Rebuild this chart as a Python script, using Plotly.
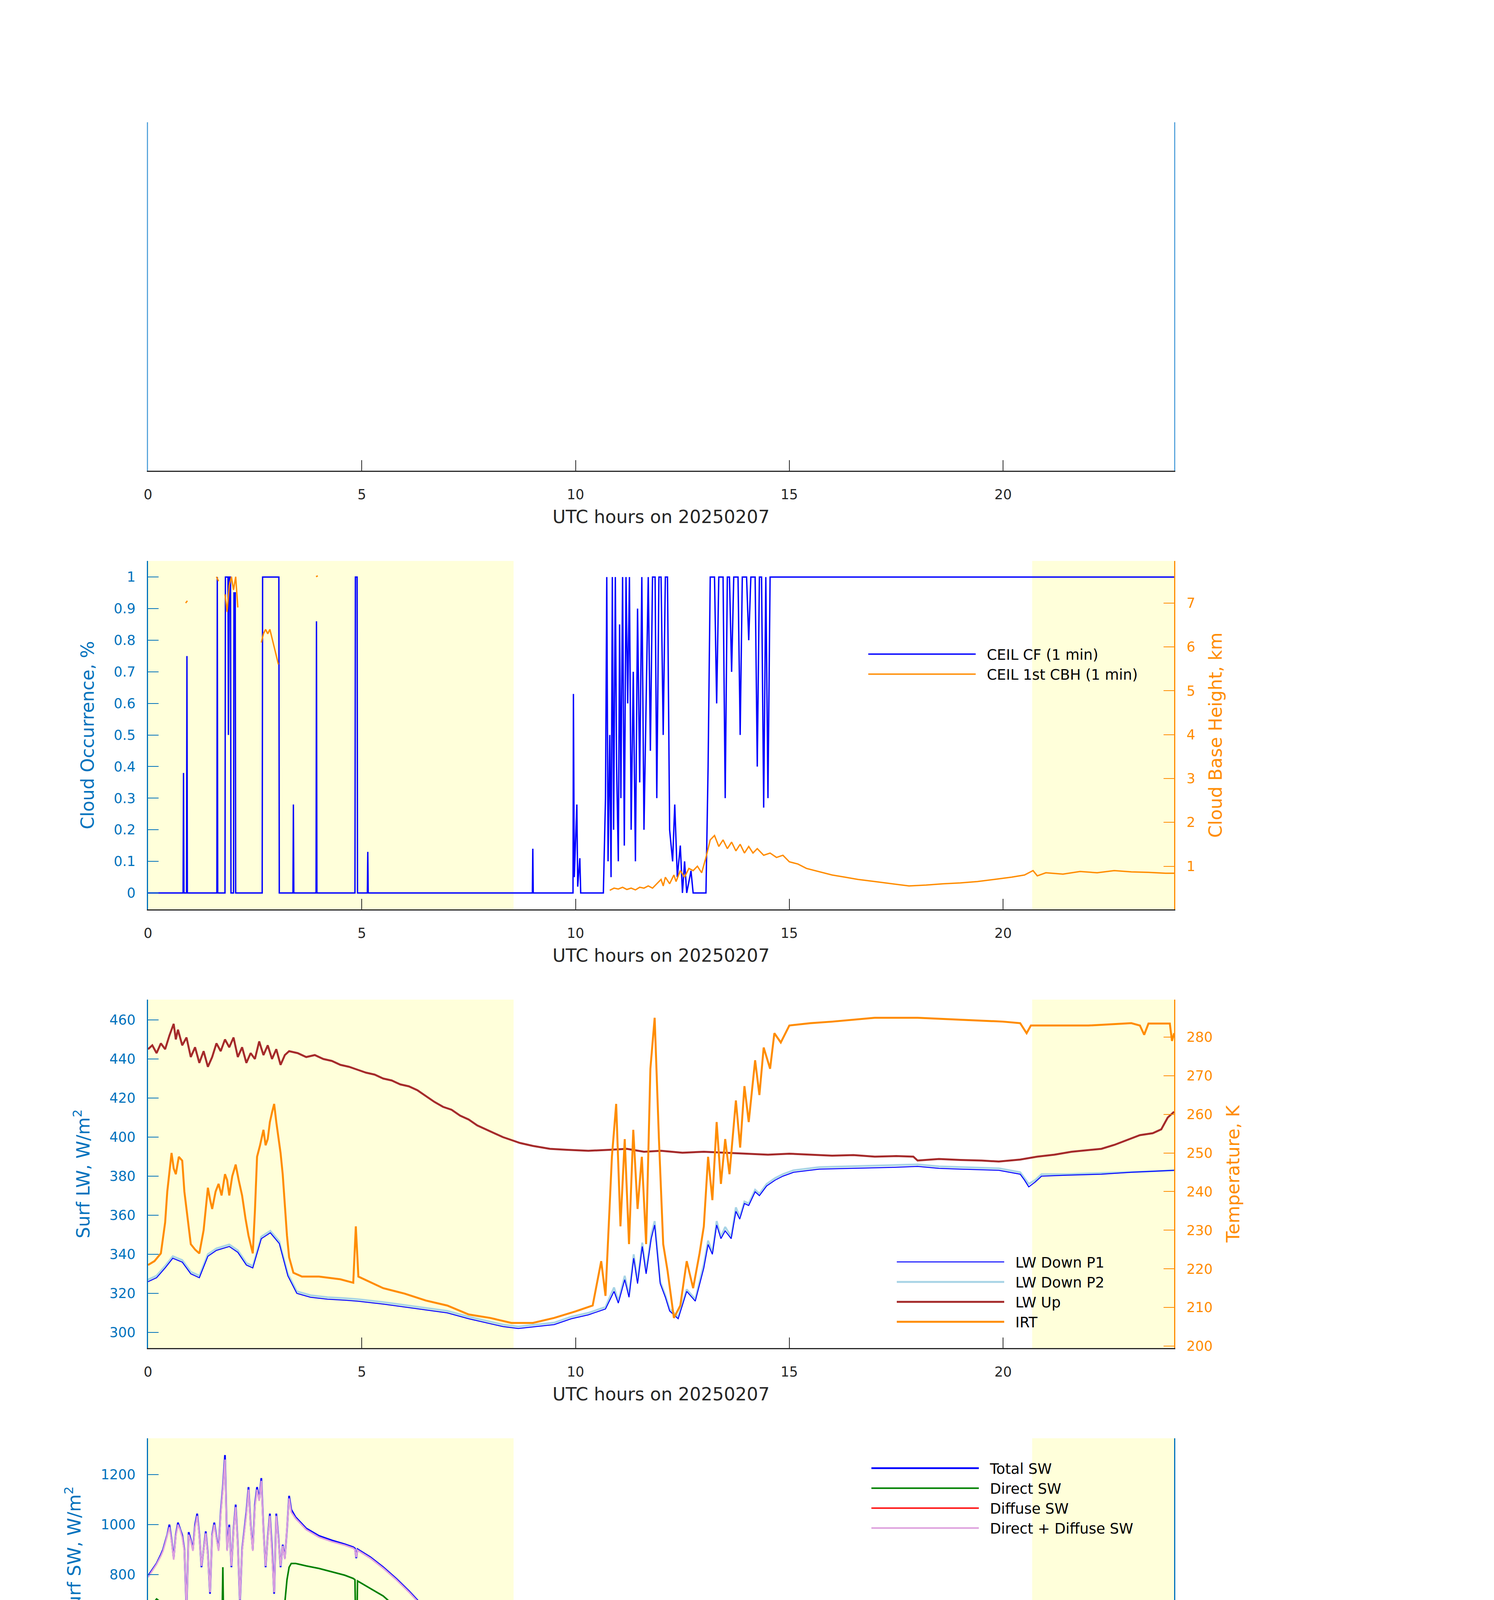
import plotly.graph_objects as go

# ---------------- DATA ----------------
HOURS_TICKS = [0, 5, 10, 15, 20]
DAY_BANDS = [(0.0, 8.55), (20.68, 24.0)]

cf_t = [0.0,0.82,0.83,0.84,0.9,0.91,0.92,1.61,1.62,1.63,
        1.8,1.81,1.87,1.88,1.9,1.93,1.94,2.0,2.01,2.04,
        2.05,2.67,2.68,3.06,3.07,3.39,3.4,3.41,3.93,3.94,
        3.95,4.84,4.85,4.89,4.9,5.13,5.14,5.15,8.99,9.0,
        9.01,9.94,9.95,9.97,10.03,10.05,10.1,10.12,10.65,10.7,
        10.73,10.76,10.8,10.83,10.86,10.89,10.93,10.96,11.0,11.03,
        11.06,11.1,11.14,11.18,11.22,11.26,11.3,11.35,11.4,11.45,
        11.5,11.55,11.6,11.65,11.7,11.75,11.8,11.86,11.9,11.95,
        12.0,12.05,12.1,12.15,12.2,12.27,12.32,12.38,12.45,12.5,
        12.55,12.6,12.7,12.75,13.05,13.1,13.15,13.25,13.3,13.35,
        13.45,13.5,13.55,13.6,13.65,13.7,13.8,13.85,13.9,14.0,
        14.05,14.1,14.2,14.25,14.3,14.35,14.4,14.45,14.5,14.55,
        14.6,24.0]
cf_v = [0,0,0.38,0,0,0.75,0,0,1,0,
        0,1,1,0.5,1,1,0,0,0.95,0.95,
        0,0,1,1,0,0,0.28,0,0,0.86,
        0,0,1,1,0,0,0.13,0,0,0.14,
        0,0,0.63,0.05,0.28,0.02,0.11,0,0,0.3,
        1,0.1,0.5,0.05,1,0.2,1,0.4,0.1,0.85,
        0.3,1,0.15,1,0.6,1,0.2,0.7,0.1,0.9,
        0.35,1,0.2,0.6,1,0.45,1,1,0.3,1,
        1,0.5,1,1,0.2,0.1,0.28,0.05,0.15,0,
        0.1,0,0.07,0,0,0.4,1,1,0.6,1,
        1,0.3,1,1,0.7,1,1,0.5,1,1,
        0.8,1,1,0.4,1,1,0.27,1,0.3,1,
        1,1]
cbh_t = [0.88,0.92,None,1.6,1.65,None,1.8,1.85,1.9,1.95,2.0,2.05,2.1,None,
         2.65,2.7,2.75,2.8,2.85,2.9,2.95,3.0,3.05,None,3.93,3.97,None,
         10.8,10.9,11.0,11.1,11.2,11.3,11.4,11.5,11.6,11.7,11.8,11.9,12.0,
         12.05,12.1,12.2,12.3,12.35,12.45,12.55,12.65,12.75,12.85,12.95,
         13.05,13.15,13.25,13.35,13.45,13.55,13.65,13.75,13.85,13.95,
         14.05,14.15,14.25,14.4,14.55,14.7,14.85,
         15.0,15.2,15.4,15.6,15.8,16.0,
         16.3,16.6,17.0,17.4,17.8,18.2,18.6,19.0,19.4,19.8,
         20.2,20.5,20.7,20.8,21.0,21.4,21.8,22.2,22.6,23.0,23.4,23.8,24.0]
cbh_v = [7.0,7.05,None,7.6,7.5,None,7.2,6.8,7.4,7.6,7.3,7.6,6.9,None,
         6.1,6.3,6.4,6.3,6.4,6.2,6.0,5.8,5.6,None,7.6,7.62,None,
         0.45,0.5,0.48,0.52,0.47,0.5,0.46,0.52,0.5,0.55,0.5,0.6,0.7,
         0.55,0.75,0.6,0.8,0.65,0.9,0.75,0.95,0.9,1.0,0.85,
         1.2,1.6,1.7,1.45,1.6,1.4,1.55,1.35,1.5,1.3,
         1.45,1.3,1.4,1.25,1.3,1.2,1.25,
         1.1,1.05,0.95,0.9,0.85,0.8,
         0.75,0.7,0.65,0.6,0.55,0.57,0.6,0.62,0.65,0.7,
         0.75,0.8,0.9,0.78,0.85,0.82,0.88,0.85,0.9,0.87,0.86,0.84,0.84]

lwd_t = [0.0,0.2,0.4,0.58,0.8,1.0,1.2,1.4,1.6,1.9,
         2.1,2.3,2.45,2.65,2.86,3.07,3.27,3.48,3.8,4.2,
         4.6,4.9,5.5,6.0,6.5,7.0,7.5,8.0,8.3,8.66,
         9.1,9.5,9.9,10.3,10.7,10.9,11.0,11.15,11.25,11.36,
         11.45,11.56,11.65,11.77,11.85,11.98,12.1,12.2,12.4,12.6,
         12.8,13.0,13.1,13.2,13.3,13.4,13.5,13.64,13.75,13.84,
         13.95,14.05,14.2,14.3,14.47,14.67,14.85,15.1,15.7,16.5,
         17.4,18.0,18.5,19.0,19.9,20.4,20.5,20.6,20.75,20.9,
         21.5,22.3,23.0,23.5,24.0]
lwd_p1 = [326,328,333,338,336,330,328,339,342,344,
          341,334.5,333,348,351,345.5,329,320,318,317,
          316.5,316,314.5,313,311.5,310,307,304.5,303,302,
          303,304,307,309,312,321,315,327,318,338,
          325,344,330,348,355,325,318,311,307,321,
          316,333,345,340,355,348,352,348,362,358,
          366,365,372,370,375,378,380,382,383.6,384,
          384.5,385,384,383.6,383,381,378,374.5,377,380,
          380.5,381,382,382.5,383]
lwd_p2 = [327,329,334,339,337,331,329,340,343,345,
          342,335.5,334,349,352,346.5,330,321,319,318,
          317.5,317,315.5,314,312.5,311,308,305.5,304,303,
          304,305,308,310,313,323,316,329,319,340,
          326,346,331,350,357,326,319,312,308,322,
          317,335,347,341,357,349,354,349,364,359,
          367,366,373,371,376,379,381,383,384.6,385,
          385.5,386,385,384.6,384,382,379,376,378,381,
          381,381.5,382,382.5,383]
lwu_t = [0.0,0.1,0.2,0.3,0.4,0.5,0.6,0.65,0.7,0.8,
         0.9,1.0,1.1,1.2,1.3,1.4,1.5,1.6,1.7,1.8,
         1.9,2.0,2.1,2.2,2.3,2.4,2.5,2.6,2.7,2.8,
         2.9,3.0,3.1,3.2,3.3,3.5,3.7,3.9,4.1,4.3,
         4.5,4.7,4.9,5.1,5.3,5.5,5.7,5.9,6.1,6.3,
         6.5,6.7,6.9,7.1,7.3,7.5,7.7,7.9,8.1,8.3,
         8.5,8.7,9.0,9.4,9.8,10.3,10.8,11.2,11.6,12.0,
         12.5,13.0,13.5,14.0,14.5,15.0,15.5,16.0,16.5,17.0,
         17.5,17.9,18.0,18.5,19.0,19.5,19.9,20.4,20.8,21.2,
         21.6,22.0,22.3,22.6,22.9,23.2,23.5,23.7,23.85,24.0]
lwu_v = [445,447,443,448,445,452,458,450,455,447,
         451,441,446,438,444,436,441,448,444,450,
         446,451,441,446,438,443,440,449,442,447,
         440,445,437,442,444,443,441,442,440,439,
         437,436,434.5,433,432,430,429,427,426,424,
         421,418,415.5,414,411,409,406,404,402,400,
         398.5,397,395.5,394,393.5,393,393.5,394,392.5,393,
         392,392.5,392,391.5,391,391.5,391,390.5,390.8,390,
         390.3,390,388,388.8,388.3,388,387.5,388.5,390,391,
         392.5,393.5,394,396,398.5,401,402,404,410,413]
irt_t = [0.0,0.15,0.3,0.4,0.45,0.55,0.6,0.65,0.72,0.8,
         0.85,0.9,0.95,1.0,1.1,1.2,1.3,1.4,1.45,1.5,
         1.58,1.65,1.72,1.8,1.85,1.9,1.97,2.05,2.12,2.2,
         2.28,2.35,2.45,2.5,2.55,2.62,2.7,2.75,2.8,2.85,
         2.9,2.95,3.0,3.05,3.1,3.15,3.2,3.25,3.3,3.4,
         3.6,4.0,4.5,4.8,4.86,4.92,5.5,6.0,6.5,7.0,
         7.5,8.0,8.5,9.0,9.5,10.0,10.4,10.6,10.7,10.85,
         10.95,11.05,11.15,11.25,11.35,11.45,11.55,11.65,11.75,11.85,
         11.95,12.05,12.15,12.3,12.45,12.6,12.75,12.9,13.0,13.1,
         13.2,13.3,13.4,13.5,13.6,13.75,13.85,13.95,14.05,14.2,
         14.3,14.4,14.55,14.65,14.8,15.0,15.5,16.0,17.0,18.0,
         19.0,20.0,20.4,20.55,20.65,21.0,22.0,23.0,23.2,23.3,
         23.4,23.9,23.95,24.0]
irt_v = [221,222,224,232,240,250,246,244.5,249,248,
         240,235.5,230,226.4,225,224,230,241,238,235.5,
         240,242,239,244.5,243,239,244,247,243,239,
         233,228.6,224,235,249,252,256,252,253.6,258,
         260.5,262.7,258,253.6,250,244.5,236,228.6,223,219,
         218,218,217.3,216.4,231,218,215,213.6,211.8,210.5,
         208.2,207.3,206,206,207.3,209,210.5,222,213,249,
         262.7,231,253.6,226.4,256,235.5,249,226.4,271.8,285,
         253.6,226.4,219.6,207.3,210.5,222,215,224,231,249,
         237.8,258,242,253.6,244.5,263.6,251.4,267.3,258,274,
         265,277.3,271.8,281,278.6,283,283.6,284,285,285,
         284.5,284,283.6,281,283,283,283,283.6,283,280.6,
         283.5,283.5,279,281]

sw_t = [0.0,0.1,0.2,0.3,0.35,0.4,0.45,0.5,0.55,0.6,
        0.65,0.7,0.75,0.8,0.85,0.9,0.95,1.0,1.05,1.1,
        1.15,1.2,1.25,1.3,1.35,1.4,1.45,1.5,1.55,1.6,
        1.65,1.7,1.75,1.8,1.85,1.9,1.95,2.0,2.05,2.1,
        2.15,2.2,2.25,2.3,2.35,2.4,2.45,2.5,2.55,2.6,
        2.65,2.7,2.75,2.8,2.85,2.9,2.95,3.0,3.05,3.1,
        3.15,3.2,3.25,3.3,3.35,
        3.45,3.7,4.0,4.3,4.6,4.8,4.84,4.87,4.9,5.2,
        5.5,5.8,6.1,6.4,6.6,6.8,7.0,7.3,7.6,7.9,
        8.2,8.5,8.8,9.1,9.4,9.7,10.0,12.0,14.0,16.0,
        18.0,20.0,
        20.2,20.4,20.6,20.8,21.0,21.2,21.4,21.6,21.8,22.0,
        22.2,22.4,22.5,22.6,22.7,22.8,22.9,23.0,23.2,23.4,
        23.6,23.8,23.9,24.0]
sw_total = [795,820,845,880,900,930,960,1000,940,866,
            960,1008,985,958,900,653,970,940,900,1000,
            1044,960,830,900,973,880,724,960,1008,950,
            900,1050,1150,1278,900,1000,830,980,1080,920,
            690,900,973,1050,1150,1000,900,1080,1150,1100,
            1186,980,830,950,1044,900,724,1044,950,830,
            920,866,980,1115,1060,
            1030,985,955,937,922,910,905,866,902,870,
            830,785,735,680,620,600,560,497,426,350,
            277,206,140,75,30,10,2,1,1,1,
            1,3,
            25,40,50,60,55,65,70,60,68,75,
            85,100,120,160,195,200,175,160,150,155,
            145,160,250,240]
sw_direct = [653,680,703,690,653,600,547,620,85,476,
             560,582,500,476,0,405,250,156,476,350,
             263,420,547,300,85,476,300,50,400,618,
             300,263,830,192,60,50,405,200,405,14,
             300,476,689,600,263,400,476,618,300,50,
             150,192,100,21,156,80,28,200,28,263,
             500,689,780,830,845,
             845,835,825,812,798,785,780,440,775,745,
             715,670,610,545,480,465,410,340,270,200,
             150,95,55,25,6,0,0,0,0,0,
             0,0,
             0,0,0,0,0,0,0,0,0,0,
             0,0,0,0,0,0,0,0,0,0,
             0,0,0,0]
sw_diffuse = [140,145,150,200,250,300,330,320,300,310,
              300,320,300,290,260,250,300,370,340,330,
              360,334,380,420,440,400,420,405,450,405,
              470,500,511,530,480,476,420,476,500,369,
              450,511,480,530,582,550,440,560,600,618,
              560,511,540,582,620,653,640,603,560,440,
              380,277,230,192,170,
              156,130,112,100,92,88,120,178,100,92,
              86,82,80,80,84,98,100,80,72,66,
              60,55,45,30,18,8,2,1,1,1,
              1,3,
              24,39,49,58,54,63,69,59,66,73,
              83,98,118,157,192,197,172,157,147,152,
              142,157,246,237]
sw_dirdif = [790,815,842,875,895,925,955,990,935,860,
             955,1000,980,950,895,660,960,935,895,990,
             1035,955,835,895,965,875,730,955,1000,945,
             895,1040,1140,1260,895,990,835,975,1070,915,
             700,895,965,1040,1140,995,895,1070,1140,1095,
             1175,975,835,945,1035,895,730,1035,945,835,
             915,862,975,1105,1050,
             1025,980,950,932,918,906,900,870,898,866,
             826,781,731,676,616,596,556,493,422,346,
             273,203,137,73,29,10,2,1,1,1,
             1,3,
             24,39,49,59,54,64,69,59,67,74,
             84,99,119,158,193,198,173,158,148,153,
             143,158,247,238]

nb_t_am = [0.0,0.1,0.2,0.3,0.4,0.45,0.5,0.55,0.6,0.65,
           0.7,0.75,0.8,0.85,0.9,0.95,1.0,1.05,1.1,1.15,
           1.2,1.25,1.3,1.35,1.4,1.45,1.5,1.55,1.6,1.65,
           1.7,1.75,1.8,1.85,1.9,1.95,2.0,2.05,2.1,2.15,
           2.2,2.25,2.3,2.35,2.4,2.45,2.5,2.55,2.6,2.65,
           2.7,2.75,2.8,2.85,2.9,2.95,3.0,3.05,3.1,3.15,
           3.2,3.25,3.3,3.35,
           3.5,3.8,4.1,4.4,4.7,4.83,4.86,4.9,5.2,5.5,
           5.8,6.1,6.4,6.5,6.55,6.7,6.9,6.95,7.1,7.4,
           7.7,7.75,7.8,8.0,8.2,8.4,8.6,8.8,9.0]
nb_t_pm = [19.9,20.1,20.3,20.5,20.7,20.9,21.1,21.3,21.5,21.7,
           21.9,22.1,22.3,22.5,22.6,22.7,22.8,22.9,23.0,23.2,
           23.4,23.6,23.8,23.9,24.0]
tot415_am = [1.16,1.18,1.21,1.26,1.30,1.10,1.40,1.05,1.45,1.10,
             1.48,1.25,1.45,0.85,1.52,1.15,1.40,0.80,1.55,1.00,
             1.48,0.70,1.60,0.90,1.52,0.60,1.65,1.05,1.58,0.75,
             1.70,1.15,2.10,1.00,1.62,0.65,1.75,0.85,1.68,0.60,
             1.72,0.95,1.95,1.05,1.68,0.75,1.80,1.05,1.72,0.70,
             1.95,0.90,1.68,0.65,1.62,0.80,1.58,0.55,1.54,0.95,
             1.56,1.25,1.52,1.50,
             1.51,1.49,1.47,1.44,1.40,1.39,1.10,1.38,1.34,1.30,
             1.25,1.20,1.14,1.12,1.10,1.09,1.04,1.03,1.00,0.92,
             0.81,0.79,0.78,0.70,0.61,0.51,0.40,0.28,0.13]
tot415_pm = [0.05,0.06,0.08,0.09,0.10,0.11,0.12,0.14,0.11,0.13,
             0.15,0.17,0.19,0.25,0.30,0.36,0.38,0.32,0.28,0.30,
             0.26,0.31,0.28,0.41,0.44]
tot503_am = [1.41,1.43,1.48,1.54,1.62,1.32,1.77,1.66,1.86,1.53,
             1.87,1.60,1.80,1.33,1.92,1.46,1.72,1.23,1.97,1.38,
             1.82,1.13,2.00,1.28,1.87,1.03,2.02,1.43,1.92,1.18,
             2.07,1.58,2.37,1.48,1.94,1.08,2.12,1.33,1.97,1.03,
             2.07,1.38,2.22,1.53,2.02,1.23,2.17,1.48,2.07,1.18,
             2.12,1.33,2.02,1.13,1.97,1.28,1.92,1.03,1.87,1.38,
             1.90,1.58,1.84,1.77,
             1.76,1.74,1.72,1.69,1.66,1.64,1.32,1.63,1.59,1.54,
             1.49,1.44,1.38,1.36,1.35,1.32,1.27,1.26,1.22,1.13,
             1.02,1.00,0.98,0.89,0.79,0.67,0.54,0.39,0.21]
tot503_pm = [0.05,0.07,0.08,0.10,0.11,0.12,0.13,0.15,0.12,0.14,
             0.16,0.18,0.21,0.27,0.33,0.41,0.43,0.36,0.31,0.34,
             0.29,0.35,0.31,0.46,0.48]
dir503_am = [1.05,1.08,1.12,1.15,1.15,0.90,1.20,0.80,1.30,0.95,
             1.35,1.00,1.25,0.45,1.40,0.80,1.15,0.30,1.45,0.60,
             1.30,0.20,1.50,0.50,1.35,0.15,1.55,0.75,1.40,0.30,
             1.60,0.90,1.80,0.60,1.45,0.15,1.60,0.40,1.50,0.10,
             1.55,0.55,1.70,0.80,1.50,0.30,1.65,0.75,1.55,0.20,
             1.60,0.45,1.50,0.10,1.45,0.35,1.40,0.05,1.35,0.60,
             1.40,1.10,1.45,1.45,
             1.46,1.45,1.44,1.42,1.38,1.37,0.85,1.36,1.33,1.28,
             1.23,1.18,1.12,1.10,0.60,1.07,1.02,0.45,0.98,0.90,
             0.80,0.50,0.76,0.70,0.62,0.52,0.42,0.30,0.15]
dif503_am = [0.35,0.36,0.36,0.38,0.42,0.45,0.55,0.62,0.58,0.70,
             0.55,0.65,0.60,0.80,0.55,0.70,0.62,0.90,0.58,0.78,
             0.60,0.95,0.55,0.80,0.58,0.95,0.52,0.75,0.58,0.90,
             0.55,0.75,0.65,0.95,0.55,1.00,0.58,0.95,0.52,1.05,
             0.55,0.90,0.60,0.80,0.55,0.95,0.58,0.80,0.55,1.00,
             0.60,0.90,0.55,1.05,0.55,0.95,0.58,1.00,0.55,0.85,
             0.50,0.45,0.38,0.33,
             0.31,0.30,0.29,0.28,0.28,0.28,0.75,0.28,0.27,0.27,
             0.27,0.27,0.26,0.26,0.75,0.26,0.25,0.80,0.25,0.24,
             0.22,0.50,0.22,0.20,0.18,0.16,0.13,0.10,0.07]
dif503_pm = [0.05,0.07,0.08,0.10,0.11,0.12,0.13,0.15,0.12,0.14,
             0.16,0.18,0.21,0.27,0.33,0.40,0.42,0.35,0.30,0.33,
             0.28,0.34,0.30,0.45,0.48]
dd503_am = [1.40,1.42,1.47,1.53,1.60,1.30,1.75,1.68,1.85,1.55,
            1.85,1.62,1.78,1.35,1.90,1.48,1.70,1.25,1.95,1.40,
            1.80,1.15,1.98,1.30,1.85,1.05,2.00,1.45,1.90,1.20,
            2.05,1.60,2.35,1.50,1.92,1.10,2.10,1.35,1.95,1.05,
            2.05,1.40,2.20,1.55,2.00,1.25,2.15,1.50,2.05,1.20,
            2.10,1.35,2.00,1.15,1.95,1.30,1.90,1.05,1.85,1.40,
            1.88,1.60,1.82,1.78,
            1.77,1.75,1.73,1.70,1.66,1.65,1.30,1.64,1.60,1.55,
            1.50,1.45,1.39,1.37,1.36,1.33,1.28,1.27,1.23,1.14,
            1.03,1.01,0.99,0.90,0.80,0.68,0.55,0.40,0.22]
dd503_pm = [0.05,0.07,0.08,0.10,0.11,0.12,0.13,0.15,0.12,0.14,
            0.16,0.18,0.21,0.27,0.33,0.40,0.42,0.35,0.30,0.33,
            0.28,0.34,0.30,0.45,0.48]
tot673_am = [1.15,1.17,1.20,1.25,1.30,1.05,1.40,0.95,1.45,1.05,
             1.50,1.20,1.45,0.70,1.55,1.10,1.40,0.60,1.60,0.90,
             1.50,0.50,1.65,0.80,1.55,0.40,1.70,1.00,1.60,0.60,
             1.75,1.10,2.42,0.90,1.65,0.50,1.80,0.70,1.70,0.45,
             1.75,0.85,2.15,1.00,1.70,0.60,1.85,1.00,1.75,0.55,
             2.20,0.80,1.70,0.50,1.65,0.70,1.60,0.40,1.55,0.85,
             1.58,1.20,1.52,1.50,
             1.50,1.48,1.46,1.43,1.39,1.38,0.95,1.37,1.33,1.29,
             1.24,1.19,1.13,1.11,0.65,1.08,1.03,0.50,0.99,0.91,
             0.80,0.55,0.77,0.69,0.60,0.50,0.39,0.27,0.12]
tot673_pm = [0.05,0.06,0.07,0.09,0.10,0.11,0.12,0.13,0.11,0.12,
             0.14,0.16,0.18,0.23,0.28,0.34,0.36,0.30,0.26,0.28,
             0.24,0.29,0.26,0.38,0.40]
tot872_am = [0.70,0.72,0.74,0.76,0.80,0.78,0.85,0.80,0.90,0.82,
             0.95,0.85,0.92,0.70,0.98,0.78,0.90,0.60,1.00,0.72,
             0.92,0.55,1.02,0.65,0.95,0.50,1.05,0.75,0.98,0.60,
             1.05,0.80,1.15,0.70,1.00,0.50,1.08,0.65,1.00,0.45,
             1.05,0.70,1.10,0.80,1.00,0.55,1.08,0.78,1.02,0.50,
             1.10,0.65,1.00,0.45,0.98,0.60,0.95,0.40,0.92,0.70,
             0.93,0.85,0.88,0.86,
             0.86,0.84,0.82,0.80,0.78,0.78,0.95,0.77,0.74,0.71,
             0.68,0.65,0.61,0.60,0.45,0.58,0.56,0.40,0.53,0.49,
             0.44,0.30,0.43,0.39,0.34,0.29,0.23,0.16,0.08]
tot872_pm = [0.03,0.04,0.05,0.06,0.07,0.07,0.08,0.09,0.08,0.09,
             0.10,0.11,0.12,0.15,0.18,0.21,0.22,0.19,0.16,0.18,
             0.15,0.18,0.16,0.24,0.26]

alb_t_am = [0.0,0.3,0.6,0.9,1.2,1.5,1.8,2.1,2.4,2.7,
            2.9,3.0,3.1,3.2,3.3,3.6,4.0,4.4,4.8,4.85,
            4.9,5.3,5.7,6.1,6.5,6.9,6.95,7.0,7.3,7.6,
            7.9,8.0,8.1,8.2,8.3,8.35,8.45,8.5,8.6,8.65,
            8.75,8.8,8.85,8.9,8.95]
alb_t_pm = [19.9,20.1,20.3,20.5,20.7,20.9,21.1,21.4,21.7,22.0,
            22.3,22.6,22.9,23.2,23.5,23.8,24.0]
bb_t_am = [0.0,0.5,1.0,1.5,2.0,2.5,3.0,3.5,4.0,4.5,
           5.0,5.5,6.0,6.5,7.0,7.3,7.6,7.9,8.0,8.1,
           8.2,8.3,8.4,8.5,8.6,8.7,8.8,8.9,9.0,9.1,
           9.2,9.3,9.4,9.5]
bb_alb_am = [0.21,0.208,0.205,0.203,0.2,0.2,0.2,0.195,0.193,0.195,
             0.2,0.205,0.215,0.227,0.24,0.25,0.265,0.29,0.31,0.3,
             0.32,0.33,0.315,0.33,0.32,0.335,0.3,0.285,0.33,0.36,
             0.37,0.34,0.22,0.2]
bb_alb_pm = [0.25,0.245,0.24,0.248,0.235,0.222,0.22,0.216,0.215,0.212,
             0.213,0.21,0.212,0.21,0.209,0.21,0.21]
a415_am = [0.045,0.045,0.044,0.045,0.044,0.045,0.044,0.045,0.044,0.045,
           0.043,0.046,0.046,0.045,0.044,0.044,0.044,0.045,0.046,0.055,
           0.046,0.047,0.047,0.049,0.05,0.052,0.058,0.053,0.055,0.056,
           0.058,0.059,0.064,0.058,0.062,0.057,0.06,0.055,0.058,0.054,
           0.057,0.053,0.056,0.052,0.054]
a415_pm = [0.047,0.046,0.046,0.047,0.045,0.045,0.046,0.044,0.045,0.044,
           0.045,0.044,0.045,0.044,0.045,0.045,0.045]
a502_am = [0.068,0.068,0.067,0.068,0.066,0.068,0.067,0.068,0.066,0.067,
           0.065,0.069,0.07,0.067,0.066,0.066,0.066,0.067,0.069,0.085,
           0.07,0.071,0.073,0.076,0.08,0.085,0.095,0.088,0.092,0.096,
           0.101,0.105,0.118,0.104,0.12,0.105,0.115,0.103,0.118,0.105,
           0.12,0.106,0.114,0.105,0.11]
a502_pm = [0.085,0.084,0.083,0.085,0.082,0.08,0.081,0.079,0.08,0.078,
           0.08,0.079,0.08,0.078,0.079,0.08,0.078]
a673_am = [0.135,0.134,0.133,0.132,0.13,0.133,0.13,0.132,0.129,0.131,
           0.128,0.132,0.134,0.13,0.128,0.127,0.127,0.128,0.132,0.16,
           0.133,0.137,0.142,0.15,0.158,0.168,0.19,0.172,0.182,0.192,
           0.205,0.21,0.235,0.215,0.24,0.22,0.25,0.23,0.26,0.235,
           0.28,0.245,0.29,0.25,0.265]
a673_pm = [0.16,0.158,0.156,0.16,0.155,0.153,0.155,0.152,0.151,0.15,
           0.152,0.15,0.151,0.149,0.15,0.151,0.15]
a873_am = [0.335,0.33,0.325,0.33,0.32,0.335,0.32,0.335,0.315,0.33,
           0.31,0.34,0.345,0.325,0.31,0.305,0.302,0.303,0.307,0.40,
           0.31,0.312,0.318,0.33,0.345,0.365,0.43,0.37,0.39,0.41,
           0.435,0.45,0.50,0.46,0.55,0.47,0.58,0.50,0.60,0.52,
           0.70,0.55,0.62,0.56,0.57]
a873_pm = [0.37,0.38,0.365,0.375,0.38,0.37,0.372,0.366,0.368,0.36,
           0.366,0.362,0.36,0.358,0.359,0.357,0.355]

# ---------------- LAYOUT CONSTANTS ----------------
W, H = 3825, 7125
XL, XR = 371, 2998
SLOTS = [305, 1428, 2551, 3674, 4797, 5920]
PANEL_SLOT = [0, 1, 2, 3, 4, 5]
PH = 892
FONT = "DejaVu Sans"
AXBLUE = "#0072BD"
ORANGE = "#FF8C00"
DARK = "#262626"
YELLOW = "#FFFFDA"
NB = "\u00a0\u00a0"


def ptop(i):
    return SLOTS[PANEL_SLOT[i]]


def ydom(i):
    top = ptop(i)
    return [1 - (top + PH) / H, 1 - top / H]


def seg(a, b):
    return list(a) + [None] + list(b)


fig = go.Figure()

# Panel 1: empty axes
fig.add_trace(go.Scatter(x=[], y=[], mode="lines", showlegend=False, xaxis="x", yaxis="y"))

# Panel 2
fig.add_trace(go.Scatter(x=cf_t, y=cf_v, mode="lines", name=NB + "CEIL CF (1 min)",
                         line=dict(color="#0000FF", width=3.5), xaxis="x2", yaxis="y2",
                         legend="legend"))
fig.add_trace(go.Scatter(x=cbh_t, y=cbh_v, mode="lines", name=NB + "CEIL 1st CBH (1 min)",
                         line=dict(color=ORANGE, width=3.5), xaxis="x2", yaxis="y7",
                         legend="legend", connectgaps=False))

# Panel 3
fig.add_trace(go.Scatter(x=lwd_t, y=lwd_p2, mode="lines", name=NB + "LW Down P2",
                         line=dict(color="#A8D4E6", width=5), xaxis="x3", yaxis="y3",
                         legend="legend2", legendrank=2))
fig.add_trace(go.Scatter(x=lwd_t, y=lwd_p1, mode="lines", name=NB + "LW Down P1",
                         line=dict(color="#0000FF", width=2.5), xaxis="x3", yaxis="y3",
                         legend="legend2", legendrank=1))
fig.add_trace(go.Scatter(x=lwu_t, y=lwu_v, mode="lines", name=NB + "LW Up",
                         line=dict(color="#A52A2A", width=5), xaxis="x3", yaxis="y3",
                         legend="legend2", legendrank=3))
fig.add_trace(go.Scatter(x=irt_t, y=irt_v, mode="lines", name=NB + "IRT",
                         line=dict(color=ORANGE, width=5), xaxis="x3", yaxis="y8",
                         legend="legend2", legendrank=4))

# Panel 4
for name, vals, col, wd in [("Total SW", sw_total, "#0000FF", 4.5),
                            ("Direct SW", sw_direct, "#008000", 4),
                            ("Diffuse SW", sw_diffuse, "#FF0000", 3.5),
                            ("Direct + Diffuse SW", sw_dirdif, "#DDA0DD", 4)]:
    fig.add_trace(go.Scatter(x=sw_t, y=vals, mode="lines", name=NB + name,
                             line=dict(color=col, width=wd), xaxis="x4", yaxis="y4",
                             legend="legend3"))

# Panel 5
nb_t = seg(nb_t_am, nb_t_pm)
fig.add_trace(go.Scatter(x=nb_t, y=seg(tot415_am, tot415_pm), mode="lines",
                         name=NB + "MFRSR Total 415 nm", line=dict(color="#7F00FF", width=4),
                         xaxis="x5", yaxis="y5", legend="legend4", legendrank=1))
fig.add_trace(go.Scatter(x=nb_t, y=seg(tot503_am, tot503_pm), mode="lines",
                         name=NB + "MFRSR Total 503 nm", line=dict(color="#00FF7F", width=4),
                         xaxis="x5", yaxis="y5", legend="legend4", legendrank=2))
fig.add_trace(go.Scatter(x=nb_t_am, y=dir503_am, mode="lines",
                         name="MFRSR Direct 503 nm", line=dict(color="#8CC49C", width=4),
                         xaxis="x5", yaxis="y5", legend="legend4", showlegend=False))
fig.add_trace(go.Scatter(x=[None], y=[None], mode="lines+markers",
                         name=NB + "MFRSR Direct 503 nm", line=dict(color="#8CC49C", width=4),
                         marker=dict(symbol="x", color="#007A3D", size=16),
                         xaxis="x5", yaxis="y5", legend="legend4", legendrank=3))
fig.add_trace(go.Scatter(x=nb_t, y=seg(dif503_am, dif503_pm), mode="lines",
                         name=NB + "MFRSR Diffuse 503 nm", line=dict(color="#C4D2BE", width=4),
                         xaxis="x5", yaxis="y5", legend="legend4", legendrank=4))
fig.add_trace(go.Scatter(x=nb_t, y=seg(dd503_am, dd503_pm), mode="lines",
                         name=NB + "MFRSR Direct+Diffuse 503 nm",
                         line=dict(color="#111111", width=4.5, dash="92px,56px"),
                         xaxis="x5", yaxis="y5", legend="legend4", legendrank=5))
fig.add_trace(go.Scatter(x=nb_t, y=seg(tot673_am, tot673_pm), mode="lines",
                         name=NB + "MFRSR Total 673 nm", line=dict(color="#E8140A", width=4),
                         xaxis="x5", yaxis="y5", legend="legend4", legendrank=6))
fig.add_trace(go.Scatter(x=nb_t, y=seg(tot872_am, tot872_pm), mode="lines",
                         name=NB + "MFRSR Total 872 nm", line=dict(color="#D8D6C0", width=4),
                         xaxis="x5", yaxis="y5", legend="legend4", legendrank=7))

# Panel 6
fig.add_trace(go.Scatter(x=seg(bb_t_am, alb_t_pm), y=seg(bb_alb_am, bb_alb_pm), mode="lines",
                         name=NB + "SW BB Albedo", line=dict(color="#000000", width=5),
                         xaxis="x6", yaxis="y6", legend="legend5"))
alb_t = seg(alb_t_am, alb_t_pm)
for name, am, pm, col in [("MFR Albedo 415 nm", a415_am, a415_pm, "#7F00FF"),
                          ("MFR Albedo 502 nm", a502_am, a502_pm, "#00FF7F"),
                          ("MFR Albedo 673 nm", a673_am, a673_pm, "#FF0000"),
                          ("MFR Albedo 873 nm", a873_am, a873_pm, "#D3D3D3")]:
    fig.add_trace(go.Scatter(x=alb_t, y=seg(am, pm), mode="lines", name=NB + name,
                             line=dict(color=col, width=5), xaxis="x6", yaxis="y6",
                             legend="legend5"))

# ---------------- AXES ----------------
layout = dict(width=W, height=H, margin=dict(l=0, r=0, t=0, b=0, pad=0),
              paper_bgcolor="white", plot_bgcolor="white",
              font=dict(family=FONT, size=35, color=DARK), showlegend=True)

AXN = ["", "2", "3", "4", "5", "6"]
for i in range(6):
    s = AXN[i]
    layout["xaxis" + s] = dict(
        domain=[XL / W, XR / W], anchor="y" + s, range=[0, 24], tickvals=HOURS_TICKS,
        ticks="inside", ticklen=27, tickwidth=2, tickcolor=DARK, showline=True,
        linecolor=DARK, linewidth=3, showgrid=False, zeroline=False,
        tickfont=dict(size=35, color=DARK, family=FONT), ticklabelstandoff=28,
        title=dict(text="UTC hours on 20250207", font=dict(size=46, color=DARK, family=FONT),
                   standoff=22), automargin=False)

ycommon = dict(ticks="inside", ticklen=27, tickwidth=2, tickcolor=AXBLUE, showline=True,
               linecolor=AXBLUE, linewidth=3, showgrid=False, zeroline=False,
               tickfont=dict(size=35, color=AXBLUE, family=FONT), ticklabelstandoff=22,
               automargin=False)


def ytitle(t, col=AXBLUE):
    return dict(text=t, font=dict(size=46, color=col, family=FONT), standoff=37)


layout["yaxis"] = dict(domain=ydom(0), anchor="x", range=[0, 1], showticklabels=False,
                       ticks="", showline=True, linecolor="#5AA5DC", linewidth=3,
                       mirror=True, showgrid=False, zeroline=False, automargin=False)
layout["yaxis2"] = dict(ycommon, domain=ydom(1), anchor="x2", range=[-0.052, 1.051],
                        tickvals=[0, 0.1, 0.2, 0.3, 0.4, 0.5, 0.6, 0.7, 0.8, 0.9, 1],
                        ticktext=["0", "0.1", "0.2", "0.3", "0.4", "0.5", "0.6", "0.7",
                                  "0.8", "0.9", "1"],
                        title=ytitle("Cloud Occurrence, %"))
layout["yaxis3"] = dict(ycommon, domain=ydom(2), anchor="x3", range=[292, 470.4],
                        tickvals=[300, 320, 340, 360, 380, 400, 420, 440, 460],
                        title=ytitle("Surf LW, W/m<sup>2</sup>"))
layout["yaxis4"] = dict(ycommon, domain=ydom(3), anchor="x4", range=[-47, 1345],
                        tickvals=[0, 200, 400, 600, 800, 1000, 1200], mirror=True,
                        title=ytitle("Downwelling Surf SW, W/m<sup>2</sup>"))
layout["yaxis5"] = dict(ycommon, domain=ydom(4), anchor="x5", range=[-0.097, 2.532],
                        tickvals=[0, 0.5, 1, 1.5, 2, 2.5],
                        ticktext=["0", "0.5", "1", "1.5", "2", "2.5"], mirror=True,
                        title=ytitle("Downwelling Narrowband, W/m<sup>2</sup>/nm"))
layout["yaxis6"] = dict(ycommon, domain=ydom(5), anchor="x6", range=[0.023, 0.74],
                        tickvals=[0.1, 0.2, 0.3, 0.4, 0.5, 0.6, 0.7],
                        ticktext=["0.1", "0.2", "0.3", "0.4", "0.5", "0.6", "0.7"],
                        mirror=True, title=ytitle("Albedo"))
rcommon = dict(ticks="inside", ticklen=27, tickwidth=2, tickcolor=ORANGE, showline=True,
               linecolor=ORANGE, linewidth=3, showgrid=False, zeroline=False, side="right",
               tickfont=dict(size=35, color=ORANGE, family=FONT), ticklabelstandoff=22,
               automargin=False)
layout["yaxis7"] = dict(rcommon, overlaying="y2", anchor="x2", range=[0.016, 7.96],
                        tickvals=[1, 2, 3, 4, 5, 6, 7],
                        title=ytitle("Cloud Base Height, km", ORANGE))
layout["yaxis8"] = dict(rcommon, overlaying="y3", anchor="x3", range=[199.5, 289.7],
                        tickvals=[200, 210, 220, 230, 240, 250, 260, 270, 280],
                        title=ytitle("Temperature, K", ORANGE))


def legend_at(panel, xpx, dy):
    ypx = ptop(panel) + dy
    return dict(x=xpx / W, y=1 - ypx / H, xanchor="left", yanchor="top",
                bgcolor="rgba(0,0,0,0)", borderwidth=0, itemwidth=275,
                font=dict(size=37, family=FONT, color="black"), tracegroupgap=0,
                traceorder="normal", itemclick=False)


layout["legend"] = legend_at(1, 2210, 208)
layout["legend2"] = legend_at(2, 2283, 641)
layout["legend3"] = legend_at(3, 2218, 46)
layout["legend4"] = legend_at(4, 1894, 47)
layout["legend5"] = legend_at(5, 1337, 93)

shapes = []
for i in range(1, 6):
    s = AXN[i]
    for x0, x1 in DAY_BANDS:
        shapes.append(dict(type="rect", xref="x" + s, yref="y" + s + " domain", x0=x0, x1=x1,
                           y0=0, y1=1, fillcolor=YELLOW, line=dict(width=0), layer="below"))
layout["shapes"] = shapes

fig.update_layout(**layout)
fig.write_html("out.html")
